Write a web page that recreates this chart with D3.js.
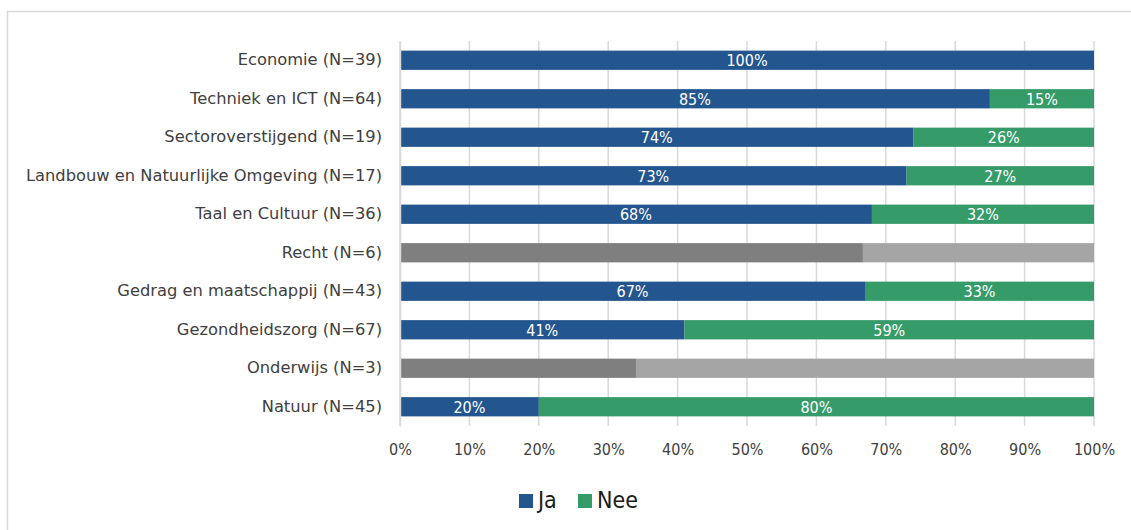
<!DOCTYPE html>
<html>
<head>
<meta charset="utf-8">
<script src="https://cdn.jsdelivr.net/npm/d3@7"></script>
<style>
  body { margin: 0; background: #fff; }
  svg { display: block; }
</style>
</head>
<body>
<div id="chart"></div>
<script>
const width = 1131;
const height = 530;
const margin = { top: 41, bottom: 104, left: 400, right: 37 };

const categories = [
  'Economie (N=39)', 'Techniek en ICT (N=64)', 'Sectoroverstijgend (N=19)',
  'Landbouw en Natuurlijke Omgeving (N=17)', 'Taal en Cultuur (N=36)', 'Recht (N=6)',
  'Gedrag en maatschappij (N=43)', 'Gezondheidszorg (N=67)', 'Onderwijs (N=3)', 'Natuur (N=45)'
];
const ja  = [100, 85, 74, 73, 68, 66.7, 67, 41, 34, 20];
const nee = [0, 15, 26, 27, 32, 33.3, 33, 59, 66, 80];
// small groups are drawn grey and without labels
const smallN = [false, false, false, false, false, true, false, false, true, false];
const ticks = [0, 10, 20, 30, 40, 50, 60, 70, 80, 90, 100];
const series = ['Ja', 'Nee'];

const colors = { Ja: '#23558f', Nee: '#359b69' };
const greys = { Ja: '#7f7f7f', Nee: '#a5a5a5' };

const narrow = '"Liberation Sans Narrow", "DejaVu Sans Condensed", sans-serif';

const rows = categories.map((c, i) => ({ cat: c, Ja: ja[i], Nee: nee[i], small: smallN[i] }));

const svg = d3.select('#chart')
  .append('svg')
  .attr('width', width)
  .attr('height', height);

// chart frame
svg.append('rect')
  .attr('x', 7.5).attr('y', 11.5)
  .attr('width', width).attr('height', height)
  .attr('fill', 'none')
  .attr('stroke', '#d9d9d9')
  .attr('stroke-width', 1.5);

const x = d3.scaleLinear()
  .domain([0, 100])
  .range([margin.left, width - margin.right]);

const y = d3.scaleBand()
  .domain(categories)
  .range([margin.top, height - margin.bottom])
  .paddingInner(0.5)
  .paddingOuter(0.25);

// gridlines
svg.append('g')
  .selectAll('line')
  .data(ticks)
  .join('line')
    .attr('x1', d => x(d)).attr('x2', d => x(d))
    .attr('y1', margin.top).attr('y2', height - margin.bottom)
    .attr('stroke', '#d9d9d9')
    .attr('stroke-width', 1.5);

const stack = d3.stack().keys(series)(rows);

const groups = svg.append('g')
  .selectAll('g')
  .data(stack)
  .join('g');

groups.selectAll('rect')
  .data(s => s.map(d => ({ key: s.key, d })))
  .join('rect')
    .attr('x', p => x(p.d[0]))
    .attr('y', p => y(p.d.data.cat))
    .attr('width', p => x(p.d[1]) - x(p.d[0]))
    .attr('height', y.bandwidth())
    .attr('fill', p => p.d.data.small ? greys[p.key] : colors[p.key]);

groups.selectAll('text')
  .data(s => s.map(d => ({ key: s.key, d })).filter(p => !p.d.data.small && p.d[1] - p.d[0] > 0))
  .join('text')
    .attr('x', p => (x(p.d[0]) + x(p.d[1])) / 2)
    .attr('y', p => y(p.d.data.cat) + y.bandwidth() / 2)
    .attr('dy', '0.36em')
    .attr('text-anchor', 'middle')
    .attr('fill', '#fff')
    .attr('font-family', narrow)
    .attr('font-size', '16px')
    .text(p => Math.round(p.d[1] - p.d[0]) + '%');

// y axis
const yAxis = svg.append('g')
  .attr('transform', `translate(${margin.left}, 0)`)
  .call(d3.axisLeft(y).tickSize(0).tickPadding(18));
yAxis.select('.domain').attr('stroke', '#d9d9d9').attr('stroke-width', 1.5);
yAxis.selectAll('text')
  .attr('font-family', '"DejaVu Sans", sans-serif')
  .attr('font-size', '16.3px')
  .attr('fill', '#404040');

// x axis
const xAxis = svg.append('g')
  .attr('transform', `translate(0, ${height - margin.bottom})`)
  .call(d3.axisBottom(x).tickValues(ticks).tickSize(0).tickPadding(18).tickFormat(d => d + '%'));
xAxis.select('.domain').remove();
xAxis.selectAll('text')
  .attr('font-family', narrow)
  .attr('font-size', '16px')
  .attr('fill', '#404040');

// legend
const legend = svg.append('g')
  .attr('transform', 'translate(519, 494)');
const legendX = [0, 59];
series.forEach((s, i) => {
  const g = legend.append('g').attr('transform', `translate(${legendX[i]}, 0)`);
  g.append('rect')
    .attr('width', 14).attr('height', 14)
    .attr('fill', colors[s]);
  g.append('text')
    .attr('x', 19).attr('y', 14)
    .attr('font-family', narrow)
    .attr('font-size', '23px')
    .attr('fill', '#1a1a1a')
    .text(s);
});
</script>
</body>
</html>
